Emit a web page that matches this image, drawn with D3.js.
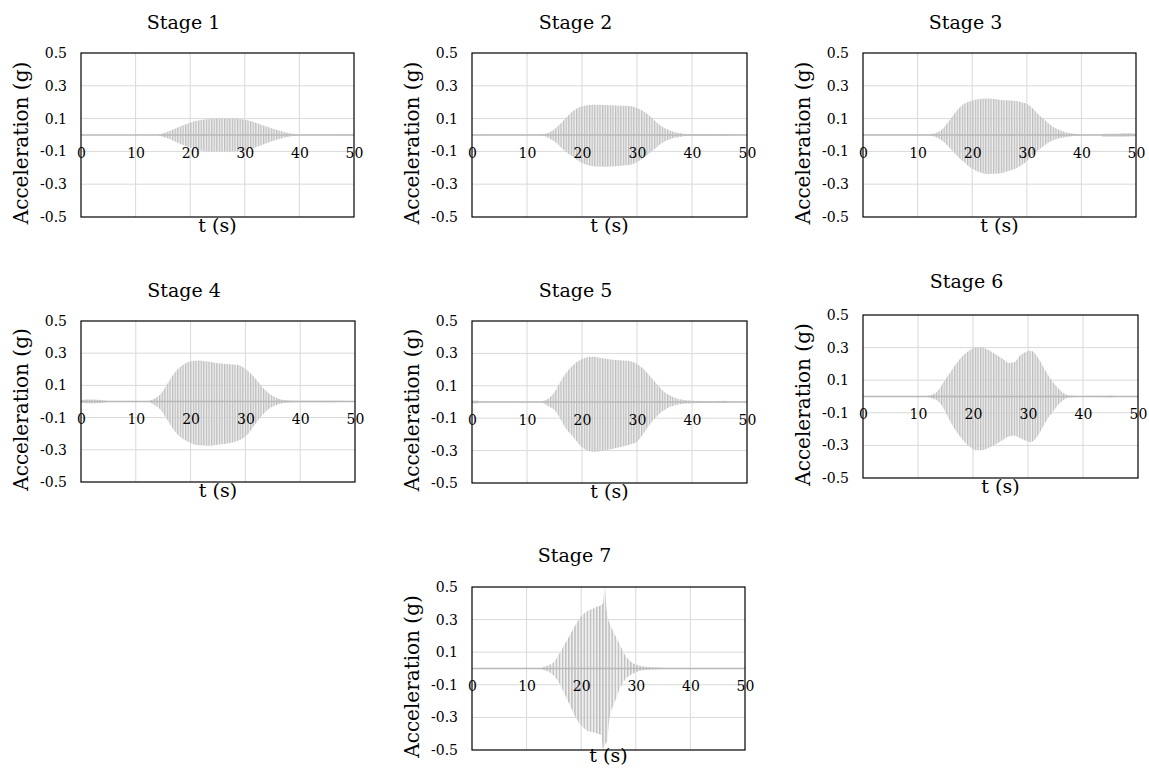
<!DOCTYPE html>
<html>
<head>
<meta charset="utf-8">
<script src="https://cdn.jsdelivr.net/npm/d3@7"></script>
<style>
  body { margin: 0; background: #fff; }
  svg text { font-family: 'DejaVu Serif', serif; fill: #000; }
</style>
</head>
<body>
<div id="chart"></div>
<script>
// envelope of each record: [t (s), max (g), min (g)]
const stage1 = [
  [0, 0, 0], [14, 0, 0], [15, 0.01, -0.01], [16, 0.022, -0.022], [17, 0.035, -0.036],
  [18, 0.05, -0.052], [19, 0.062, -0.065], [20, 0.075, -0.078], [21, 0.085, -0.088],
  [22, 0.092, -0.095], [23, 0.096, -0.099], [25, 0.1, -0.1], [27, 0.1, -0.1],
  [29, 0.098, -0.098], [30, 0.093, -0.094], [31, 0.085, -0.086], [32, 0.075, -0.075],
  [33, 0.063, -0.062], [34, 0.052, -0.05], [35, 0.04, -0.038], [36, 0.03, -0.028],
  [37, 0.02, -0.018], [38, 0.012, -0.011], [39, 0.006, -0.005], [40, 0.001, -0.001],
  [47, 0.001, -0.001], [48, 0.003, -0.003], [49, 0.001, -0.001], [50, 0.001, -0.001]
];
const stage2 = [
  [0, 0.001, -0.001], [12.5, 0.001, -0.001], [13, 0.005, -0.005], [14, 0.015, -0.02],
  [15, 0.035, -0.04], [16, 0.065, -0.07], [17, 0.1, -0.1], [18, 0.135, -0.125],
  [19, 0.16, -0.15], [20, 0.175, -0.17], [21, 0.182, -0.183], [22, 0.185, -0.19],
  [24, 0.183, -0.193], [26, 0.18, -0.19], [28, 0.178, -0.185], [29, 0.175, -0.18],
  [30, 0.165, -0.165], [31, 0.148, -0.145], [32, 0.125, -0.118], [33, 0.095, -0.09],
  [34, 0.065, -0.062], [35, 0.042, -0.04], [36, 0.027, -0.026], [37, 0.017, -0.016],
  [38, 0.01, -0.01], [39, 0.006, -0.006], [40, 0.004, -0.004], [44, 0.003, -0.004],
  [46, 0.005, -0.005], [48, 0.002, -0.002], [50, 0.002, -0.002]
];
const stage3 = [
  [0, 0.001, -0.001], [12, 0.001, -0.001], [12.5, 0.005, -0.005], [13.5, 0.015, -0.015],
  [14.5, 0.035, -0.035], [15.5, 0.075, -0.065], [16.5, 0.12, -0.1], [17.5, 0.16, -0.135],
  [18.5, 0.19, -0.165], [19.5, 0.205, -0.195], [20.5, 0.215, -0.215], [21.5, 0.22, -0.228],
  [23, 0.222, -0.238], [25, 0.215, -0.235], [27, 0.21, -0.215], [28, 0.208, -0.205],
  [29, 0.2, -0.185], [30, 0.19, -0.16], [31, 0.165, -0.125], [32, 0.13, -0.095],
  [33, 0.1, -0.07], [34, 0.07, -0.045], [35, 0.045, -0.03], [36, 0.03, -0.02],
  [37, 0.018, -0.013], [38, 0.01, -0.009], [39, 0.006, -0.005], [40, 0.002, -0.002],
  [43.5, 0.001, -0.001], [44, 0.008, -0.01], [46, 0.008, -0.01], [48, 0.01, -0.01],
  [50, 0.008, -0.008]
];
const stage4 = [
  [0, 0.01, -0.01], [2, 0.012, -0.012], [4, 0.008, -0.008], [5, 0.003, -0.003],
  [6, 0.001, -0.001], [12, 0.001, -0.001], [12.5, 0.005, -0.005], [13.5, 0.02, -0.025],
  [14.5, 0.045, -0.05], [15.5, 0.095, -0.1], [16.5, 0.15, -0.155], [17.5, 0.195, -0.2],
  [18.5, 0.225, -0.23], [19.5, 0.245, -0.25], [20.5, 0.252, -0.265], [21.5, 0.255, -0.272],
  [23, 0.248, -0.275], [25, 0.238, -0.268], [27, 0.232, -0.26], [28.5, 0.228, -0.245],
  [29.5, 0.215, -0.23], [30.5, 0.19, -0.2], [31.5, 0.155, -0.155], [32.5, 0.115, -0.11],
  [33.5, 0.075, -0.07], [34.5, 0.045, -0.04], [35.5, 0.025, -0.025], [36.5, 0.013, -0.013],
  [37.5, 0.008, -0.008], [39, 0.005, -0.005], [42, 0.004, -0.004], [45, 0.004, -0.005],
  [50, 0.002, -0.002]
];
const stage5 = [
  [0, 0.01, -0.008], [1, 0.01, -0.01], [1.5, 0.002, -0.002], [12.5, 0.002, -0.002],
  [13, 0.008, -0.008], [14, 0.025, -0.03], [15, 0.06, -0.05], [16, 0.12, -0.1],
  [17, 0.175, -0.16], [18, 0.215, -0.2], [19, 0.245, -0.24], [20, 0.265, -0.28],
  [21, 0.277, -0.3], [22, 0.28, -0.307], [23, 0.275, -0.305], [24, 0.268, -0.3],
  [26, 0.26, -0.285], [28, 0.255, -0.27], [29, 0.25, -0.26], [30, 0.235, -0.245],
  [31, 0.21, -0.205], [32, 0.175, -0.155], [33, 0.135, -0.11], [34, 0.095, -0.075],
  [35, 0.06, -0.05], [36, 0.04, -0.03], [37, 0.025, -0.02], [38, 0.015, -0.012],
  [40, 0.008, -0.008], [43, 0.005, -0.005], [46, 0.008, -0.006], [47, 0.002, -0.002],
  [50, 0.002, -0.002]
];
const stage6 = [
  [0, 0.003, -0.003], [11.5, 0.003, -0.003], [12.5, 0.01, -0.01], [13.5, 0.03, -0.025],
  [14.5, 0.08, -0.065], [15.5, 0.13, -0.13], [16.5, 0.18, -0.19], [17.5, 0.225, -0.24],
  [18.5, 0.26, -0.28], [19.5, 0.285, -0.31], [20.5, 0.3, -0.33], [21.5, 0.3, -0.33],
  [22.5, 0.29, -0.32], [23.5, 0.272, -0.305], [24.5, 0.25, -0.285], [25.5, 0.228, -0.265],
  [26.5, 0.205, -0.245], [27.5, 0.21, -0.24], [28.5, 0.25, -0.255], [29.5, 0.272, -0.27],
  [30.5, 0.28, -0.28], [31.5, 0.255, -0.255], [32.5, 0.2, -0.2], [33.5, 0.14, -0.14],
  [34.5, 0.09, -0.095], [35.5, 0.05, -0.05], [36.5, 0.02, -0.02], [37.5, 0.006, -0.006],
  [40, 0.003, -0.003], [44, 0.004, -0.004], [45, 0.006, -0.006], [46, 0.003, -0.003],
  [50, 0.003, -0.003]
];
const stage7 = [
  [0, 0.003, -0.003], [12.5, 0.003, -0.003], [13, 0.008, -0.008], [14, 0.02, -0.02],
  [15, 0.04, -0.045], [16, 0.09, -0.09], [17, 0.15, -0.16], [18, 0.21, -0.23],
  [19, 0.27, -0.3], [20, 0.32, -0.35], [21, 0.35, -0.38], [22, 0.365, -0.39],
  [23, 0.38, -0.4], [23.7, 0.39, -0.41], [24, 0.4, -0.5], [24.3, 0.5, -0.47],
  [24.7, 0.35, -0.45], [25.2, 0.28, -0.3], [26, 0.22, -0.22], [27, 0.15, -0.13],
  [28, 0.085, -0.07], [29, 0.045, -0.04], [30, 0.025, -0.025], [31, 0.015, -0.013],
  [33, 0.008, -0.006], [35, 0.004, -0.003], [36, 0.001, -0.001], [50, 0.001, -0.001]
];

const titles = ['Stage 1', 'Stage 2', 'Stage 3', 'Stage 4', 'Stage 5', 'Stage 6', 'Stage 7'];
const xTicks = [0, 10, 20, 30, 40, 50];
const yTicks = [-0.5, -0.3, -0.1, 0.1, 0.3, 0.5];

const width = 1149;
const height = 775;

// plot frames (px)
const frames = [
  { x: 81, y: 53, w: 273, h: 164, titleDy: -24.5 },
  { x: 472, y: 53, w: 275, h: 164, titleDy: -24.5 },
  { x: 863, y: 53, w: 273, h: 164, titleDy: -24.5 },
  { x: 81, y: 321, w: 274, h: 161, titleDy: -24 },
  { x: 472, y: 321, w: 275, h: 162, titleDy: -24 },
  { x: 863, y: 315, w: 275, h: 163, titleDy: -27.5 },
  { x: 472, y: 587, w: 273, h: 163, titleDy: -25, xLabDy: 12, pat: 'osc7' },
];
const allData = [stage1, stage2, stage3, stage4, stage5, stage6, stage7];

const svg = d3
  .select('#chart')
  .append('svg')
  .attr('width', width)
  .attr('height', height);

// dense oscillation look (style only)
const defs = svg.append('defs');
function addPattern(id, step, lw) {
  const p = defs
    .append('pattern')
    .attr('id', id)
    .attr('patternUnits', 'userSpaceOnUse')
    .attr('width', step)
    .attr('height', 10);
  p.append('rect').attr('width', step).attr('height', 10).attr('fill', '#e4e4e4').attr('fill-opacity', 0.55);
  p.append('rect').attr('width', lw).attr('height', 10).attr('fill', '#bdbdbd');
}
addPattern('osc', 2.6, 1.3);
addPattern('osc7', 3.1, 1.4);

const fmt = (d) => d.toFixed(1);

frames.forEach((f, i) => {
  const data = allData[i];
  const g = svg.append('g').attr('transform', `translate(${f.x},${f.y})`);

  const x = d3.scaleLinear().domain([0, 50]).range([0, f.w]);
  const y = d3.scaleLinear().domain([-0.5, 0.5]).range([f.h, 0]);

  // gridlines
  g.append('g')
    .selectAll('line')
    .data(xTicks.slice(1, -1))
    .enter()
    .append('line')
    .attr('x1', (d) => x(d))
    .attr('x2', (d) => x(d))
    .attr('y1', 0)
    .attr('y2', f.h)
    .attr('stroke', '#d9d9d9');
  g.append('g')
    .selectAll('line')
    .data(yTicks.slice(1, -1))
    .enter()
    .append('line')
    .attr('x1', 0)
    .attr('x2', f.w)
    .attr('y1', (d) => y(d))
    .attr('y2', (d) => y(d))
    .attr('stroke', '#d9d9d9');

  // signal envelope
  const area = d3
    .area()
    .x((d) => x(d[0]))
    .y0((d) => y(d[2]))
    .y1((d) => y(d[1]))
    .curve(d3.curveMonotoneX);
  g.append('path')
    .datum(data)
    .attr('d', area)
    .attr('fill', `url(#${f.pat || 'osc'})`);

  // zero line / x axis
  g.append('line')
    .attr('x1', 0)
    .attr('x2', f.w)
    .attr('y1', y(0))
    .attr('y2', y(0))
    .attr('stroke', '#b8b8b8')
    .attr('stroke-width', 1.5);

  // tick labels
  const xAxis = g
    .append('g')
    .attr('transform', `translate(0,${y(0)})`)
    .call(d3.axisBottom(x).tickValues(xTicks).tickSize(0).tickPadding(13).tickFormat(d3.format('d')));
  xAxis.select('.domain').remove();
  xAxis.selectAll('text').style('font-size', '14px').style('font-family', "'DejaVu Serif', serif");

  const yAxis = g
    .append('g')
    .call(d3.axisLeft(y).tickValues(yTicks).tickSize(0).tickPadding(14).tickFormat(fmt));
  yAxis.select('.domain').remove();
  yAxis.selectAll('text').style('font-size', '14px').style('font-family', "'DejaVu Serif', serif");

  // frame
  g.append('rect')
    .attr('width', f.w)
    .attr('height', f.h)
    .attr('fill', 'none')
    .attr('stroke', '#000')
    .attr('stroke-width', 1.2);

  // titles
  g.append('text')
    .attr('x', f.w / 2 - 34)
    .attr('y', f.titleDy)
    .attr('text-anchor', 'middle')
    .style('font-size', '19px')
    .text(titles[i]);

  g.append('text')
    .attr('x', f.w / 2)
    .attr('y', f.h + (f.xLabDy || 15))
    .attr('text-anchor', 'middle')
    .style('font-size', '19px')
    .text('t (s)');

  g.append('text')
    .attr('transform', `translate(-53,${f.h / 2 + 8}) rotate(-90)`)
    .attr('text-anchor', 'middle')
    .style('font-size', '20px')
    .text('Acceleration (g)');
});
</script>
</body>
</html>
